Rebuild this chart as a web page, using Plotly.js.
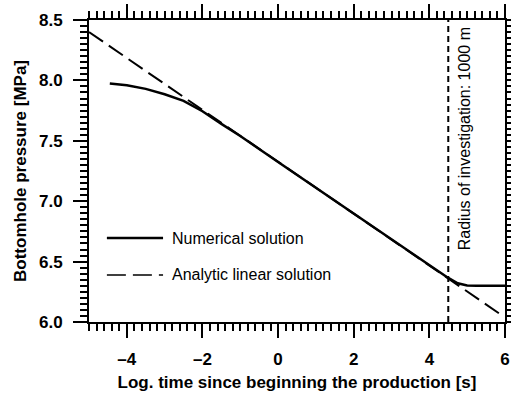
<!DOCTYPE html>
<html>
<head>
<meta charset="utf-8">
<script src="https://cdn.plot.ly/plotly-3.0.1.min.js"></script>
<style>html,body{margin:0;padding:0;background:#fff;}#chart{width:511px;height:395px;}</style>
</head>
<body>
<div id="chart"></div>
<script>
// Numerical solution (log10 time [s], bottomhole pressure [MPa])
const numericalX = [-4.45, -4.0, -3.5, -3.0, -2.5, -2.0, -1.5, -1.0, 0.0, 1.0, 2.0, 3.0, 4.0, 4.5, 4.75, 5.0, 5.25, 6.0];
const numericalY = [7.975, 7.96, 7.93, 7.885, 7.83, 7.745, 7.64, 7.54, 7.325, 7.11, 6.895, 6.68, 6.465, 6.365, 6.32, 6.303, 6.30, 6.30];
// Analytic linear solution
const analyticX = [-5.0, -4.0, -3.0, -2.0, -1.0, 0.0, 1.0, 2.0, 3.0, 4.0, 5.0, 5.85];
const analyticY = [8.40, 8.185, 7.97, 7.755, 7.54, 7.325, 7.11, 6.895, 6.68, 6.465, 6.25, 6.07];
// Radius of investigation marker
const radiusX = [4.5];
const radiusLabel = ["Radius of investigation: 1000 m"];
const seriesNames = ["Numerical solution", "Analytic linear solution"];
const xTickVals = [-4, -2, 0, 2, 4, 6];
const yTickVals = [6.0, 6.5, 7.0, 7.5, 8.0, 8.5];

const tickFont = {family: 'Liberation Sans, Arial, sans-serif', size: 17, color: '#000', weight: 'bold'};
const titleFont = {family: 'Liberation Sans, Arial, sans-serif', size: 17, color: '#000', weight: 'bold'};
const textFont = {family: 'Liberation Sans, Arial, sans-serif', size: 16, color: '#000'};

const traces = [
  {x: numericalX, y: numericalY, mode: 'lines', name: seriesNames[0],
   line: {color: '#000', width: 2.5}, showlegend: false},
  {x: analyticX, y: analyticY, mode: 'lines', name: seriesNames[1],
   line: {color: '#000', width: 2, dash: '17px,7px'}, showlegend: false}
];

const axisCommon = {
  showgrid: false, zeroline: false, showline: true, linecolor: '#000', linewidth: 2,
  ticks: 'outside', ticklen: 14, tickwidth: 2, tickcolor: '#000', mirror: 'allticks',
  tickfont: tickFont, ticklabelstandoff: 7
};

const layout = {
  width: 511, height: 395,
  margin: {l: 89, r: 6, t: 20, b: 73},
  paper_bgcolor: '#fff', plot_bgcolor: '#fff',
  showlegend: false,
  xaxis: Object.assign({}, axisCommon, {
    range: [-5, 6], tickmode: 'array', tickvals: xTickVals,
    ticktext: xTickVals.map(v => v < 0 ? '\u2013' + Math.abs(v) : String(v)),
    minor: {dtick: 0.2, tick0: 0, ticks: 'outside', ticklen: 7, tickwidth: 2, tickcolor: '#000'},
    title: {text: 'Log. time since beginning the production [s]', font: titleFont, standoff: 8},
    automargin: false
  }),
  yaxis: Object.assign({}, axisCommon, {
    range: [6.0, 8.5], tickmode: 'array', tickvals: yTickVals,
    ticktext: yTickVals.map(v => v.toFixed(1)),
    minor: {dtick: 0.05, tick0: 6, ticks: 'outside', ticklen: 7, tickwidth: 2, tickcolor: '#000'},
    title: {text: 'Bottomhole pressure [MPa]', font: titleFont, standoff: 8},
    automargin: false
  }),
  shapes: [
    {type: 'line', xref: 'x', yref: 'paper', x0: radiusX[0], x1: radiusX[0], y0: 0, y1: 1,
     line: {color: '#000', width: 2, dash: '6px,4px'}},
    // legend samples
    {type: 'line', xref: 'paper', yref: 'paper', x0: 0.043, x1: 0.178, y0: 0.278, y1: 0.278,
     line: {color: '#000', width: 2.5}},
    {type: 'line', xref: 'paper', yref: 'paper', x0: 0.043, x1: 0.178, y0: 0.156, y1: 0.156,
     line: {color: '#000', width: 1.5, dash: '19px,7px'}}
  ],
  annotations: [
    {text: seriesNames[0], xref: 'paper', yref: 'paper', x: 0.195, y: 0.278, xanchor: 'left', yanchor: 'middle',
     showarrow: false, font: textFont},
    {text: seriesNames[1], xref: 'paper', yref: 'paper', x: 0.195, y: 0.156, xanchor: 'left', yanchor: 'middle',
     showarrow: false, font: textFont},
    {text: radiusLabel[0], xref: 'x', yref: 'paper', x: radiusX[0], y: 0.606, xshift: 17,
     xanchor: 'center', yanchor: 'middle', textangle: -90, showarrow: false, font: textFont}
  ]
};

Plotly.newPlot('chart', traces, layout, {staticPlot: true, displayModeBar: false});
</script>
</body>
</html>
